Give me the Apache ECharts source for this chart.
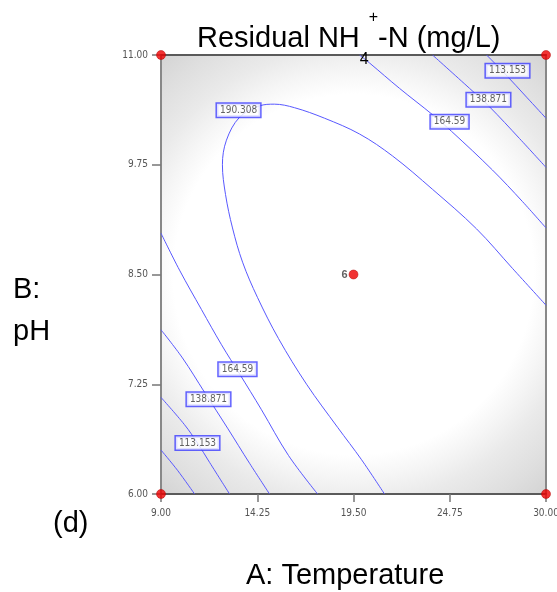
<!DOCTYPE html>
<html>
<head>
<meta charset="utf-8">
<script src="https://cdn.jsdelivr.net/npm/echarts@6/dist/echarts.min.js"></script>
<style>
  html, body { margin: 0; padding: 0; background: #ffffff; }
  #chart { width: 557px; height: 592px; }
</style>
</head>
<body>
<div id="chart"></div>
<script>
// Axis ranges and tick spacing
const tempRange = [9, 30];
const tempStep = 5.25;
const phRange = [6, 11];
const phStep = 1.25;

// Contour paths of residual NH4+-N, as [temperature, pH] points
const path190 = [[21.19, 6.00], [19.94, 6.39], [18.63, 6.76], [16.94, 7.25], [15.41, 7.77], [14.26, 8.24],
  [13.45, 8.64], [12.90, 9.03], [12.52, 9.41], [12.35, 9.75], [12.57, 10.03], [13.28, 10.29],
  [14.37, 10.42], [15.19, 10.44], [16.28, 10.40], [17.92, 10.28], [19.83, 10.10], [21.63, 9.85],
  [23.81, 9.47], [26.21, 9.02], [28.17, 8.57], [30.00, 8.15]];
const path164Upper = [[19.83, 11.00], [20.37, 10.91], [22.01, 10.62], [23.81, 10.32], [24.85, 10.13],
  [27.08, 9.69], [28.72, 9.33], [30.00, 9.03]];
const path138Upper = [[23.81, 11.00], [25.83, 10.62], [26.92, 10.41], [28.55, 10.05], [30.00, 9.72]];
const path113Upper = [[26.76, 11.00], [27.79, 10.78], [28.94, 10.52], [30.00, 10.28]];
const path164Lower = [[9.00, 8.97], [10.01, 8.55], [11.21, 8.10], [12.30, 7.70], [13.28, 7.37], [14.48, 6.96],
  [15.95, 6.44], [17.54, 6.00]];
const path138Lower = [[9.00, 7.87], [10.17, 7.55], [11.37, 7.16], [12.63, 6.75], [13.83, 6.35], [14.92, 6.00]];
const path113Lower = [[9.00, 7.10], [10.28, 6.79], [10.99, 6.58], [11.65, 6.36], [12.74, 6.00]];
const path87Lower = [[9.00, 6.50], [9.90, 6.27], [10.83, 6.00]];

const contourPaths = [path190, path164Upper, path138Upper, path113Upper,
  path164Lower, path138Lower, path113Lower, path87Lower];

// Contour level tags: [temperature, pH, level]
const levelTags = [[13.23, 10.37, 190.308], [24.74, 10.24, 164.59], [26.86, 10.49, 138.871],
  [27.90, 10.82, 113.153], [13.17, 7.42, 164.59], [11.59, 7.08, 138.871], [10.99, 6.58, 113.153]];

// Design points [temperature, pH] and run counts at each
const designPoints = [[9, 6], [9, 11], [30, 6], [30, 11], [19.5, 8.5]];
const designRuns = [1, 1, 1, 1, 6];

const sans = '"Liberation Sans", Arial, sans-serif';
const narrow = '"Liberation Sans Narrow", "DejaVu Sans Condensed", "Arial Narrow", sans-serif';
const contourColor = '#5858ff';

const chart = echarts.init(document.getElementById('chart'), null, { renderer: 'canvas' });

const series = contourPaths.map(p => ({
  type: 'line',
  data: p,
  smooth: 0.35,
  showSymbol: false,
  symbol: 'none',
  silent: true,
  z: 3,
  lineStyle: { color: contourColor, width: 1 }
}));

series.push({
  type: 'scatter',
  data: levelTags,
  symbolSize: 0.01,
  itemStyle: { color: 'rgba(0,0,0,0)' },
  z: 5,
  label: {
    show: true,
    position: 'inside',
    formatter: p => String(p.value[2]),
    fontFamily: narrow,
    fontSize: 10,
    color: '#3a3a3a',
    backgroundColor: '#ffffff',
    borderColor: '#3c3cff',
    borderWidth: 1.5,
    padding: [2, 3, 1, 3]
  }
});

series.push({
  type: 'scatter',
  data: designPoints.map((p, i) => ({ value: p, runs: designRuns[i] })),
  symbolSize: 9,
  clip: false,
  z: 10,
  itemStyle: { color: '#ee0000', borderColor: '#b00000', borderWidth: 0.6 },
  label: {
    show: true,
    position: 'left',
    distance: 1,
    formatter: p => (p.data.runs > 1 ? String(p.data.runs) : ''),
    fontFamily: sans,
    fontSize: 11,
    fontWeight: 'bold',
    color: '#3a3a3a'
  }
});

const option = {
  animation: false,
  backgroundColor: '#ffffff',
  title: {
    text: '{m|Residual NH}{sub|4}{sup|+}{m|-N (mg/L)}',
    left: 197,
    top: 10,
    padding: 0,
    textStyle: {
      fontWeight: 'normal',
      rich: {
        m: { fontFamily: sans, fontSize: 29, fontWeight: 'normal', color: '#000', lineHeight: 58 },
        sub: { fontFamily: sans, fontSize: 16, fontWeight: 'normal', color: '#000', lineHeight: 22, verticalAlign: 'bottom' },
        sup: { fontFamily: sans, fontSize: 16, fontWeight: 'normal', color: '#000', lineHeight: 18, verticalAlign: 'top' }
      }
    }
  },
  grid: {
    left: 161, top: 55, width: 385, height: 439,
    outerBoundsMode: 'none',
    containLabel: false,
    show: true,
    borderWidth: 0,
    backgroundColor: {
      type: 'radial', x: 0.5, y: 0.5, r: 0.78,
      colorStops: [
        { offset: 0, color: '#ffffff' },
        { offset: 0.6, color: '#ffffff' },
        { offset: 0.68, color: '#f5f5f5' },
        { offset: 0.76, color: '#eaeaea' },
        { offset: 0.88, color: '#dedede' },
        { offset: 1, color: '#d0d0d0' }
      ]
    }
  },
  xAxis: [{
    type: 'value', min: tempRange[0], max: tempRange[1], interval: tempStep,
    position: 'bottom',
    axisLine: { show: true, lineStyle: { color: '#5a5a5a', width: 2 } },
    axisTick: { show: true, inside: false, length: 8, lineStyle: { color: '#777', width: 1.5 } },
    axisLabel: { formatter: v => v.toFixed(2), fontFamily: narrow, fontSize: 10, color: '#555', margin: 14 },
    splitLine: { show: false }
  }, {
    type: 'value', min: tempRange[0], max: tempRange[1], position: 'top',
    axisLine: { show: true, lineStyle: { color: '#5a5a5a', width: 2 } },
    axisTick: { show: false }, axisLabel: { show: false }, splitLine: { show: false }
  }],
  yAxis: [{
    type: 'value', min: phRange[0], max: phRange[1], interval: phStep,
    position: 'left',
    axisLine: { show: true, lineStyle: { color: '#888', width: 2 } },
    axisTick: { show: true, inside: false, length: 9, lineStyle: { color: '#777', width: 1.5 } },
    axisLabel: { formatter: v => v.toFixed(2), fontFamily: narrow, fontSize: 10, color: '#555', margin: 13 },
    splitLine: { show: false }
  }, {
    type: 'value', min: phRange[0], max: phRange[1], position: 'right',
    axisLine: { show: true, lineStyle: { color: '#888', width: 2 } },
    axisTick: { show: false }, axisLabel: { show: false }, splitLine: { show: false }
  }],
  graphic: [
    { type: 'text', left: 13, top: 275, style: { text: 'B:', font: '29px ' + sans, fill: '#000' } },
    { type: 'text', left: 13, top: 317, style: { text: 'pH', font: '29px ' + sans, fill: '#000' } },
    { type: 'text', left: 53, top: 509, style: { text: '(d)', font: '29px ' + sans, fill: '#000' } },
    { type: 'text', left: 246, top: 561, style: { text: 'A: Temperature', font: '29px ' + sans, fill: '#000' } }
  ],
  series: series
};

chart.setOption(option);
</script>
</body>
</html>
